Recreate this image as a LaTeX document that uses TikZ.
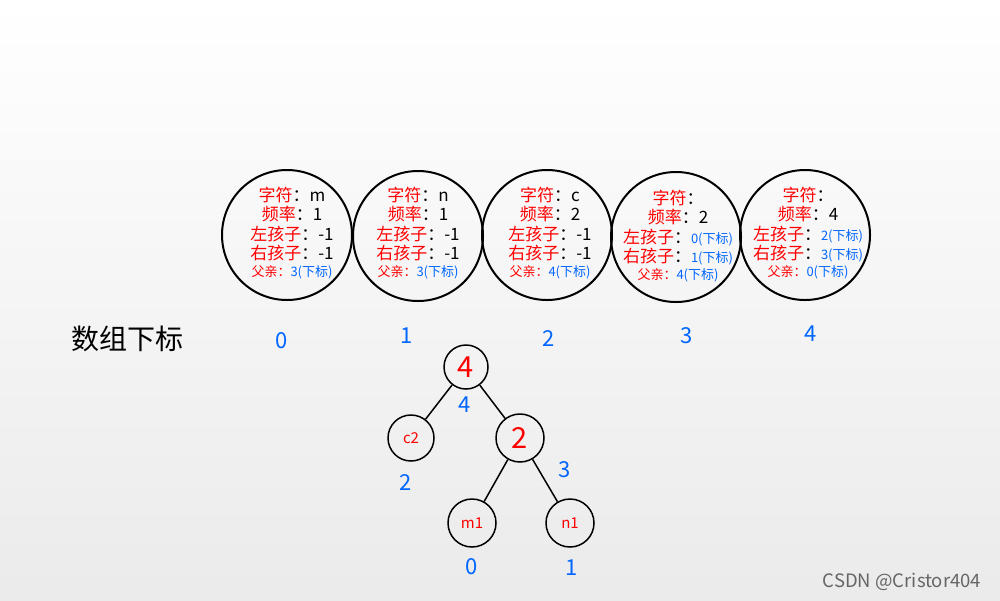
\documentclass[tikz,border=0pt]{standalone}
\usepackage{fontspec}
\setmainfont{Noto Sans CJK SC}
\begin{document}
\begin{tikzpicture}[x=1pt,y=-1pt,
 big/.style={circle,draw,line width=2pt,minimum size=130pt,inner sep=0pt},
 tn/.style={circle,draw,line width=1.5pt,inner sep=0pt},
 lab/.style={font=\fontsize{22}{24}\selectfont, text={rgb,255:red,0;green,102;blue,255}},
 info/.style={align=center,font=\fontsize{17}{19.5}\selectfont}]
\shade[top color=white,bottom color=black!8] (0,0) rectangle (1000,600);
\useasboundingbox (0,0) rectangle (1000,600);
\def\R{\color{red}}\def\B{\color[RGB]{0,102,255}}
\newcommand\mysm{\fontsize{13}{18}\selectfont}
\node[big] (c0) at (287,235) {};
\node[big] (c1) at (418,236) {};
\node[big] (c2) at (547,235) {};
\node[big] (c3) at (676,237) {};
\node[big] (c4) at (805,235) {};
\node[info] (t0) at (292,233) {{\R 字符}：m\\{\R 频率}：1\\{\R 左孩子}：-1\\{\R 右孩子}：-1\\[-3pt]{\mysm\R 父亲：\B 3(下标)}};
\node[info] (t1) at (418,233) {{\R 字符}：n\\{\R 频率}：1\\{\R 左孩子}：-1\\{\R 右孩子}：-1\\[-3pt]{\mysm\R 父亲：\B 3(下标)}};
\node[info] (t2) at (550,233) {{\R 字符}：c\\{\R 频率}：2\\{\R 左孩子}：-1\\{\R 右孩子}：-1\\[-3pt]{\mysm\R 父亲：\B 4(下标)}};
\node[info] (t3) at (678,236) {{\R 字符}：\\{\R 频率}：2\\{\R 左孩子}：{\mysm\B 0(下标)}\\{\R 右孩子}：{\mysm\B 1(下标)}\\[-3pt]{\mysm\R 父亲：\B 4(下标)}};
\node[info] (t4) at (808,233) {{\R 字符}：\\{\R 频率}：4\\{\R 左孩子}：{\mysm\B 2(下标)}\\{\R 右孩子}：{\mysm\B 3(下标)}\\[-3pt]{\mysm\R 父亲：\B 0(下标)}};
\node[font=\fontsize{28}{30}\selectfont] (idx) at (127,339) {数组下标};
\node[lab] (i0) at (282,341) {0};
\node[lab] (i1) at (407,336) {1};
\node[lab] (i2) at (549,339) {2};
\node[lab] (i3) at (687,336) {3};
\node[lab] (i4) at (811,334) {4};
\node[tn,minimum size=44pt,text=red,font=\fontsize{29}{30}\selectfont] (n4) at (466,367) {4};
\node[tn,minimum size=46pt,text=red,font=\fontsize{15}{16}\selectfont] (nc) at (411,438) {c2};
\node[tn,minimum size=48pt,text=red,font=\fontsize{29}{30}\selectfont] (n2) at (520,438) {2};
\node[tn,minimum size=48pt,text=red,font=\fontsize{15}{16}\selectfont] (nm) at (472,523) {m1};
\node[tn,minimum size=48pt,text=red,font=\fontsize{15}{16}\selectfont] (nn) at (570,523) {n1};
\draw[line width=1.5pt] (n4)--(nc) (n4)--(n2) (n2)--(nm) (n2)--(nn);
\node[lab] (l4) at (465,405) {4};
\node[lab] (lc) at (406,483) {2};
\node[lab] (l2) at (565,470) {3};
\node[lab] (lm) at (472,567) {0};
\node[lab] (ln) at (572,568) {1};
\node[text=black!60,font=\fontsize{18.5}{20}\selectfont] (wm) at (902,582) {CSDN @Cristor404};
\end{tikzpicture}
\end{document}
